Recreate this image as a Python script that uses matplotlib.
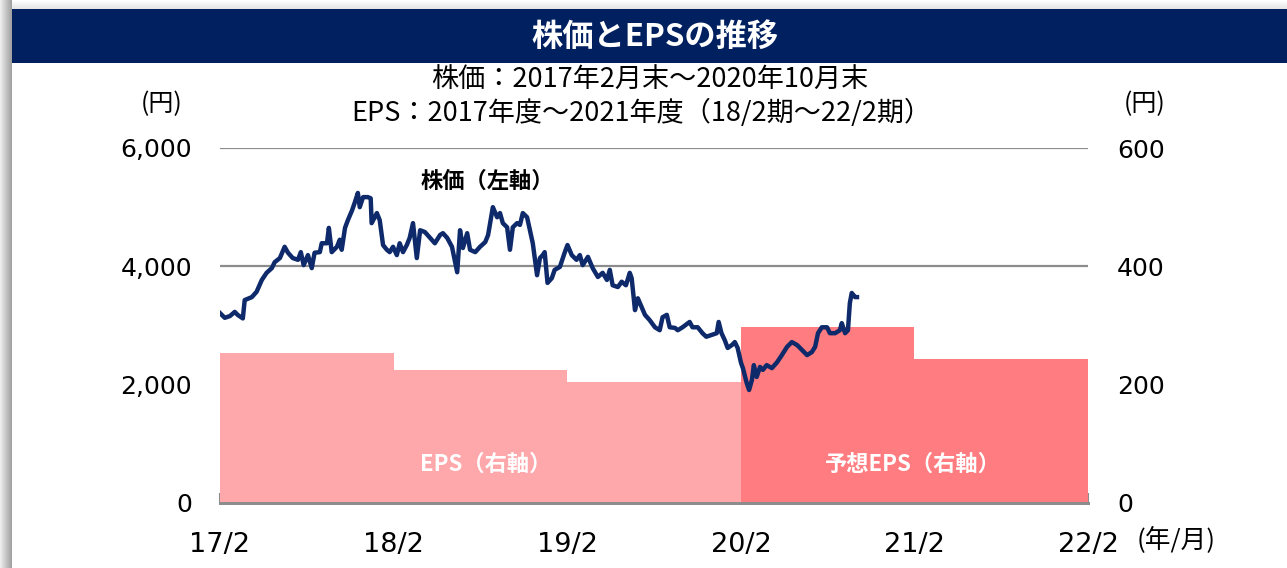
import matplotlib
matplotlib.use('Agg')
import matplotlib.pyplot as plt
import matplotlib.dates as mdates
import pandas as pd
from matplotlib.patches import Rectangle

# ---------------- data ----------------
price_dates = [
    '2017-02-28', '2017-03-10', '2017-03-21', '2017-03-31', '2017-04-06', '2017-04-17',
    '2017-04-21', '2017-05-06', '2017-05-16', '2017-05-27', '2017-06-06', '2017-06-17',
    '2017-06-23', '2017-07-04', '2017-07-14', '2017-07-21', '2017-07-31', '2017-08-11',
    '2017-08-17', '2017-08-23', '2017-09-01', '2017-09-09', '2017-09-15', '2017-09-26',
    '2017-09-30', '2017-10-11', '2017-10-15', '2017-10-21', '2017-11-01', '2017-11-07',
    '2017-11-11', '2017-11-18', '2017-11-24', '2017-12-03', '2017-12-09', '2017-12-15',
    '2017-12-19', '2017-12-26', '2018-01-05', '2018-01-11', '2018-01-13', '2018-01-24',
    '2018-01-30', '2018-02-06', '2018-02-14', '2018-02-20', '2018-02-27', '2018-03-07',
    '2018-03-13', '2018-03-20', '2018-03-28', '2018-04-03', '2018-04-10', '2018-04-18',
    '2018-04-25', '2018-05-05', '2018-05-16', '2018-05-26', '2018-06-06', '2018-06-12',
    '2018-06-21', '2018-07-01', '2018-07-12', '2018-07-18', '2018-07-24', '2018-08-02',
    '2018-08-08', '2018-08-19', '2018-08-29', '2018-09-09', '2018-09-15', '2018-09-25',
    '2018-10-04', '2018-10-10', '2018-10-16', '2018-10-25', '2018-10-31', '2018-11-06',
    '2018-11-15', '2018-11-21', '2018-11-27', '2018-12-06', '2018-12-12', '2018-12-18',
    '2018-12-27', '2019-01-02', '2019-01-08', '2019-01-12', '2019-01-18', '2019-01-27',
    '2019-02-02', '2019-02-13', '2019-02-23', '2019-03-01', '2019-03-10', '2019-03-20',
    '2019-03-27', '2019-04-02', '2019-04-13', '2019-04-23', '2019-05-04', '2019-05-14',
    '2019-05-23', '2019-05-29', '2019-06-04', '2019-06-15', '2019-06-23', '2019-07-02',
    '2019-07-10', '2019-07-14', '2019-07-21', '2019-07-27', '2019-08-04', '2019-08-11',
    '2019-08-21', '2019-09-01', '2019-09-11', '2019-09-17', '2019-09-26', '2019-10-02',
    '2019-10-13', '2019-10-19', '2019-10-29', '2019-11-13', '2019-11-19', '2019-11-30',
    '2019-12-10', '2019-12-18', '2019-12-29', '2020-01-09', '2020-01-13', '2020-01-19',
    '2020-01-26', '2020-02-01', '2020-02-10', '2020-02-16', '2020-02-22', '2020-02-29',
    '2020-03-04', '2020-03-12', '2020-03-17', '2020-03-23', '2020-03-27', '2020-04-02',
    '2020-04-09', '2020-04-15', '2020-04-23', '2020-05-04', '2020-05-15', '2020-05-25',
    '2020-06-05', '2020-06-15', '2020-06-26', '2020-07-06', '2020-07-17', '2020-07-27',
    '2020-08-03', '2020-08-09', '2020-08-17', '2020-08-28', '2020-09-03', '2020-09-14',
    '2020-09-24', '2020-09-28', '2020-10-05', '2020-10-11', '2020-10-15', '2020-10-19',
    '2020-10-26', '2020-10-30',
]
price_values = [
    3210, 3130, 3160, 3230, 3180, 3120,
    3430, 3480, 3570, 3770, 3890, 3970,
    4070, 4140, 4330, 4230, 4140, 4110,
    4240, 4020, 4190, 3970, 4230, 4240,
    4390, 4390, 4650, 4240, 4330, 4450,
    4280, 4650, 4780, 4950, 5090, 5240,
    5000, 5170, 5170, 5150, 4730, 4900,
    4780, 4360, 4280, 4240, 4330, 4190,
    4390, 4240, 4360, 4480, 4730, 4140,
    4610, 4580, 4480, 4390, 4530, 4560,
    4480, 4330, 3900, 4610, 4310, 4560,
    4280, 4240, 4330, 4410, 4530, 5000,
    4830, 4900, 4730, 4660, 4280, 4660,
    4730, 4700, 4900, 4830, 4610, 4390,
    3850, 4140, 4190, 4240, 3720, 3800,
    3940, 3990, 4230, 4360, 4190, 4110,
    4190, 4020, 4160, 3970, 3820, 3890,
    3770, 3940, 3680, 3650, 3740, 3680,
    3890, 3800, 3260, 3460, 3310, 3180,
    3090, 2970, 2920, 3140, 3180, 2970,
    2960, 2920, 2970, 3060, 2970, 2970,
    2870, 2810, 2840, 2870, 3060, 2870,
    2750, 2620, 2670, 2720, 2620, 2370,
    2280, 2030, 1910, 2080, 2330, 2130,
    2300, 2250, 2330, 2280, 2380, 2500,
    2640, 2720, 2670, 2590, 2500, 2550,
    2640, 2870, 2970, 2970, 2870, 2870,
    2920, 3040, 2870, 2920, 3380, 3550,
    3480, 3480,
]

eps_period_edges = ['2017-02-28', '2018-02-28', '2019-02-28', '2020-02-29', '2021-02-28', '2022-02-28']
eps_actual = [253, 225, 205]       # 18/2期, 19/2期, 20/2期
eps_forecast = [297, 243]          # 21/2期, 22/2期 (予想)

x_tick_dates = ['2017-02-28', '2018-02-28', '2019-02-28', '2020-02-29', '2021-02-28', '2022-02-28']
x_tick_labels = ['17/2', '18/2', '19/2', '20/2', '21/2', '22/2']
left_ticks = [0, 2000, 4000, 6000]
left_tick_labels = ['0', '2,000', '4,000', '6,000']
right_ticks = [0, 200, 400, 600]

title_text = '株価とEPSの推移'
subtitle1 = '株価：2017年2月末～2020年10月末'
subtitle2 = 'EPS：2017年度～2021年度（18/2期～22/2期）'

# ---------------- style ----------------
CJK = ['Noto Sans CJK JP', 'DejaVu Sans']
NAVY = '#002060'
LINE = '#0e2a6b'
LIGHT = '#ffa8ab'
DARK = '#ff7c80'
GRID = '#8c8c8c'

W, H = 1287, 568
fig = plt.figure(figsize=(W / 100, H / 100), dpi=100)
fig.patch.set_facecolor('white')

# left shadow strip (gradient)
n = 12
for i in range(n):
    g = 0.93 - 0.30 * i / (n - 1)
    fig.patches.append(Rectangle((i / W, 0), 1 / W, 1, transform=fig.transFigure,
                                 facecolor=(g, g, g), edgecolor='none', zorder=0))
# faint top shadow
for i in range(9):
    g = 1.0 - 0.10 * i / 8
    fig.patches.append(Rectangle((12 / W, 1 - (i + 1) / H), 1 - 12 / W, 1 / H,
                                 transform=fig.transFigure, facecolor=(g, g, g),
                                 edgecolor='none', zorder=0))

# title bar
fig.patches.append(Rectangle((12 / W, 1 - 63 / H), 1 - 12 / W, 54 / H,
                             transform=fig.transFigure, facecolor=NAVY,
                             edgecolor='none', zorder=1))
fig.text(655 / W, 1 - 37 / H, title_text, color='white', fontsize=22.5, fontweight='bold',
         ha='center', va='center', family=CJK, zorder=2)

fig.text(650 / W, 1 - 80 / H, subtitle1, fontsize=19.5, ha='center', va='center', family=CJK)
fig.text(641 / W, 1 - 113 / H, subtitle2, fontsize=19.5, ha='center', va='center', family=CJK)

# axes
left, right = 220 / W, 1088 / W
bottom, top = (H - 503) / H, (H - 148) / H
ax_eps = fig.add_axes([left, bottom, right - left, top - bottom])
ax_px = ax_eps.twinx()

edges = mdates.date2num(pd.to_datetime(eps_period_edges))
ax_eps.stairs(eps_actual, edges[:4], fill=True, color=LIGHT, zorder=2)
ax_eps.stairs(eps_forecast, edges[3:], fill=True, color=DARK, zorder=2)
ax_eps.set_ylim(0, 600)
ax_eps.set_yticks(right_ticks)
ax_eps.set_axisbelow(True)
ax_eps.yaxis.grid(True, color=GRID, lw=1.6)
ax_eps.yaxis.tick_right()
ax_eps.tick_params(axis='y', length=0, pad=21, labelsize=18)

pdates = mdates.date2num(pd.to_datetime(price_dates))
ax_px.plot(pdates, price_values, color=LINE, lw=3.2, solid_joinstyle='round', zorder=3)
ax_px.set_ylim(0, 6000)
ax_px.set_yticks(left_ticks)
ax_px.set_yticklabels(left_tick_labels)
ax_px.yaxis.tick_left()
ax_px.tick_params(axis='y', length=0, pad=20, labelsize=18)

xt = mdates.date2num(pd.to_datetime(x_tick_dates))
for a in (ax_eps, ax_px):
    a.set_xlim(edges[0], edges[-1])
    for s in ('top', 'left', 'right'):
        a.spines[s].set_visible(False)
    a.spines['bottom'].set_color(GRID)
    a.spines['bottom'].set_linewidth(2)
    a.patch.set_visible(False)
ax_eps.set_xticks(xt)
ax_eps.set_xticklabels(x_tick_labels)
ax_eps.tick_params(axis='x', direction='in', length=7, width=1.5, color=GRID,
                   pad=21, labelsize=19.5)
ax_px.tick_params(axis='x', bottom=False, labelbottom=False)

# annotations
fig.text(487 / W, 1 - 181 / H, '株価（左軸）', fontsize=16, fontweight='bold',
         ha='center', va='center', family=CJK)
fig.text(486 / W, 1 - 464 / H, 'EPS（右軸）', fontsize=16, fontweight='bold', color='white',
         ha='center', va='center', family=CJK)
fig.text(913 / W, 1 - 464 / H, '予想EPS（右軸）', fontsize=16, fontweight='bold', color='white',
         ha='center', va='center', family=CJK)
fig.text(162 / W, 1 - 104 / H, '(円)', fontsize=18, ha='center', va='center', family=CJK)
fig.text(1145 / W, 1 - 104 / H, '(円)', fontsize=18, ha='center', va='center', family=CJK)
fig.text(1176 / W, 1 - 540 / H, '(年/月)', fontsize=18.5, ha='center', va='center', family=CJK)

fig.savefig('out.png', dpi=100)
